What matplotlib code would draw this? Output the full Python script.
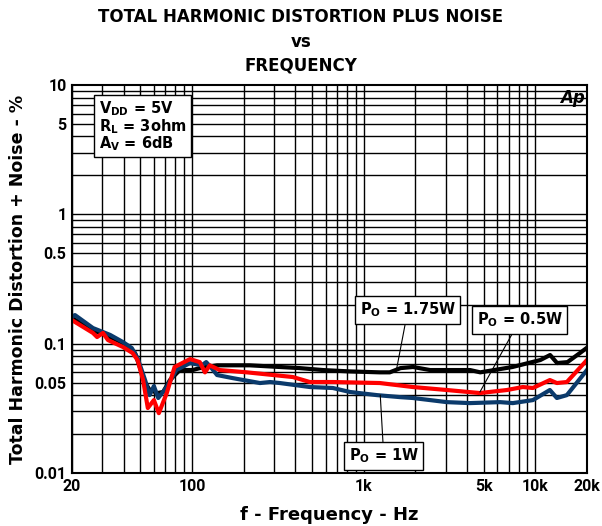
import numpy as np
import matplotlib
matplotlib.use('Agg')
import matplotlib.pyplot as plt
from matplotlib.ticker import FixedLocator, FixedFormatter, NullFormatter

# THD+N vs frequency, three output powers
f_175 = [20, 26.5, 33.4, 39.6, 46.6, 49.6, 53.3, 56.6, 62.9, 67.9, 74.4, 85, 101, 111, 140,
         217, 425, 580, 830, 1240, 1420, 1640, 1940, 2440, 4170, 4780, 7370, 10700, 12200,
         13400, 15400, 18200, 20000]
thd_175 = [0.158, 0.127, 0.1125, 0.101, 0.0846, 0.066, 0.050, 0.044, 0.0415, 0.0423, 0.0523,
           0.0625, 0.0625, 0.0647, 0.068, 0.068, 0.0647, 0.0625, 0.061, 0.060, 0.060, 0.0647,
           0.066, 0.0625, 0.0625, 0.060, 0.066, 0.0747, 0.0817, 0.0708, 0.072, 0.0846, 0.093]

f_1 = [20, 20.8, 26.5, 30.3, 33.4, 39.6, 44.6, 48.2, 53.3, 56.6, 60.0, 63.6, 71.3, 81.0, 97.4,
       114, 121, 130, 140, 172, 249, 285, 325, 486, 662, 832, 1195, 1628, 1936, 3056, 4160,
       6240, 7400, 9680, 12160, 13360, 15280, 20000]
thd_1 = [0.1606, 0.1664, 0.132, 0.123, 0.1167, 0.1029, 0.0925, 0.0774, 0.0523, 0.0400, 0.0470,
         0.0380, 0.0462, 0.0625, 0.0708, 0.068, 0.072, 0.0647, 0.0572, 0.0542, 0.0496, 0.0505,
         0.0496, 0.0462, 0.0454, 0.0423, 0.0400, 0.0386, 0.0380, 0.0353, 0.0347, 0.0353,
         0.0347, 0.0366, 0.0438, 0.0380, 0.0400, 0.0625]

f_05 = [20, 26.5, 28.0, 30.3, 32.4, 39.6, 45.1, 48.2, 51.9, 55.3, 60.0, 64.1, 71.3, 79.2, 97.4,
        111, 119, 127, 145, 209, 387, 486, 662, 1244, 1936, 3056, 4756, 6834, 8460, 9680,
        12160, 13360, 15280, 20000]
thd_05 = [0.152, 0.121, 0.1125, 0.121, 0.1066, 0.0942, 0.0846, 0.0747, 0.0523, 0.0318, 0.0366,
          0.029, 0.0415, 0.066, 0.076, 0.072, 0.060, 0.068, 0.0625, 0.060, 0.0552, 0.0505,
          0.0505, 0.0496, 0.0462, 0.0438, 0.0415, 0.0438, 0.0462, 0.0454, 0.0523, 0.0496,
          0.0505, 0.0747]

x_ticks = [20, 100, 1000, 5000, 10000, 20000]
x_labels = ['20', '100', '1k', '5k', '10k', '20k']
y_ticks = [0.01, 0.05, 0.1, 0.5, 1, 5, 10]
y_labels = ['0.01', '0.05', '0.1', '0.5', '1', '5', '10']

fnt = 'DejaVu Sans'

fig = plt.figure(figsize=(6.02, 5.26), dpi=100)
ax = fig.add_axes([0.1196, 0.1008, 0.8554, 0.7376])

ax.set_xscale('log')
ax.set_yscale('log')
ax.set_xlim(20, 20000)
ax.set_ylim(0.01, 10)

# grid at every 1..9 step of each decade
xg = [m * 10 ** d for d in range(1, 5) for m in range(1, 10) if 20 <= m * 10 ** d <= 20000]
yg = [m * 10 ** d for d in range(-2, 1) for m in range(1, 10)]
for x in xg:
    ax.axvline(x, color='black', lw=1.0, zorder=1)
for y in yg:
    ax.axhline(y, color='black', lw=1.0, zorder=1)

ax.plot(f_175, thd_175, color='black', lw=3.0, zorder=3)
ax.plot(f_1, thd_1, color='#0b3a6b', lw=3.0, zorder=4)
ax.plot(f_05, thd_05, color='#ff0000', lw=3.0, zorder=5)

ax.xaxis.set_major_locator(FixedLocator(x_ticks))
ax.xaxis.set_major_formatter(FixedFormatter(x_labels))
ax.xaxis.set_minor_formatter(NullFormatter())
ax.yaxis.set_major_locator(FixedLocator(y_ticks))
ax.yaxis.set_major_formatter(FixedFormatter(y_labels))
ax.yaxis.set_minor_formatter(NullFormatter())
ax.tick_params(which='both', direction='in', length=0, pad=4)
for lab in ax.get_xticklabels() + ax.get_yticklabels():
    lab.set_fontweight('bold')
    lab.set_fontsize(11.5)
    lab.set_family('Roboto')
for s in ax.spines.values():
    s.set_linewidth(1.5)
    s.set_zorder(6)

ax.set_xlabel('f - Frequency - Hz', fontsize=13, fontweight='bold', family=fnt, labelpad=9)
ax.set_ylabel('Total Harmonic Distortion + Noise - %', fontsize=12.5, fontweight='bold',
              family=fnt, labelpad=5)

fig.text(0.5, 0.967, 'TOTAL HARMONIC DISTORTION PLUS NOISE', ha='center', va='center',
         fontsize=12, fontweight='bold', family=fnt)
fig.text(0.5, 0.920, 'vs', ha='center', va='center', fontsize=12, fontweight='bold', family=fnt)
fig.text(0.5, 0.875, 'FREQUENCY', ha='center', va='center', fontsize=12, fontweight='bold',
         family=fnt)

box = dict(boxstyle='square,pad=0.3', fc='white', ec='black', lw=1.0)
ax.text(0.052, 0.962, '$\\mathbf{V_{DD}}$ = 5V\n$\\mathbf{R_L}$ = 3ohm\n$\\mathbf{A_V}$ = 6dB',
        transform=ax.transAxes, ha='left', va='top', fontsize=10.5, fontweight='bold',
        family=fnt, linespacing=0.9, bbox=box, zorder=7)
ax.text(0.995, 0.99, 'Ap', transform=ax.transAxes, ha='right', va='top', fontsize=12,
        fontweight='bold', fontstyle='italic', family=fnt, zorder=7)

ann = dict(arrowstyle='-', color='black', lw=0.8, shrinkA=0, shrinkB=0)
ax.annotate('$\\mathbf{P_O}$ = 1.75W', xy=(1560, 0.0647), xytext=(1810, 0.182),
            ha='center', va='center', fontsize=10.5, fontweight='bold', family=fnt,
            bbox=box, arrowprops=ann, zorder=7)
ax.annotate('$\\mathbf{P_O}$ = 0.5W', xy=(4760, 0.0423), xytext=(8120, 0.152),
            ha='center', va='center', fontsize=10.5, fontweight='bold', family=fnt,
            bbox=box, arrowprops=ann, zorder=7)
ax.annotate('$\\mathbf{P_O}$ = 1W', xy=(1250, 0.0400), xytext=(1310, 0.0135),
            ha='center', va='center', fontsize=10.5, fontweight='bold', family=fnt,
            bbox=box, arrowprops=ann, zorder=7)

fig.savefig('out.png', dpi=100)
